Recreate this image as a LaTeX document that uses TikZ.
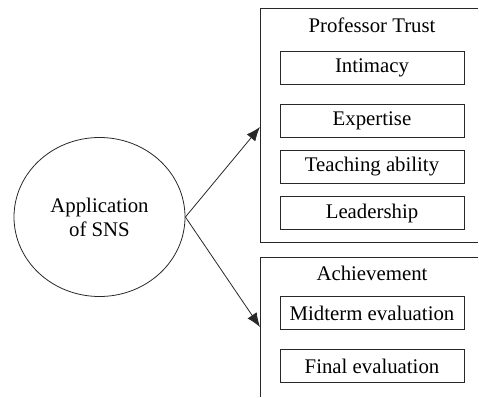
\documentclass[tikz,border=0pt]{standalone}
\usepackage{fontspec}
\setmainfont{Liberation Serif}
\usepackage{tikz}
\usetikzlibrary{positioning, shapes.geometric, arrows.meta}
\definecolor{lineColor}{RGB}{40,40,40}
\tikzstyle{diagram} = [x = 1pt, y = -1pt]
\tikzstyle{groupLine} = [color=lineColor, line width=1pt]
\tikzstyle{causeStyle} = [ellipse, draw=lineColor, line width=0.8pt, minimum width=171pt, minimum height=159pt, align=center, font=\fontsize{20.8}{24}\selectfont]
\tikzstyle{itemStyle} = [draw=lineColor, line width=0.9pt, minimum width=184pt, minimum height=33pt, inner sep=0pt, font=\fontsize{20.8}{24}\selectfont]
\tikzstyle{titleStyle} = [font=\fontsize{20.8}{24}\selectfont]
\tikzstyle{effectArrow} = [color=lineColor, line width=0.8pt, -{Latex[length=14pt, width=11pt]}]
\newcommand{\itemBox}[3]{\node [itemStyle] (#1) at (372, #2) {#3};}

\begin{document}
\begin{tikzpicture}[diagram]
  \useasboundingbox (0,0) rectangle (479,397);

  % open group frames
  \draw [groupLine] (478,8) -- (260,8) -- (260,242) -- (478,242);
  \draw [groupLine] (478,257) -- (260,257) -- (260,397);
  \coordinate (trustIn) at (260,127);
  \coordinate (achievementIn) at (260,327);

  \node [titleStyle] (trustTitle) at (372,25) {Professor Trust};
  \itemBox{intimacy}{68}{Intimacy}
  \itemBox{expertise}{121}{Expertise}
  \itemBox{teaching}{167}{Teaching ability}
  \itemBox{leadership}{213}{Leadership}

  \node [titleStyle] (achievementTitle) at (372,273) {Achievement};
  \itemBox{midterm}{313}{Midterm evaluation}
  \itemBox{final}{366}{Final evaluation}

  \node [causeStyle] (sns) at (99.5,217) {Application\\of SNS};
  \draw [effectArrow] (sns.east) -- (trustIn);
  \draw [effectArrow] (sns.east) -- (achievementIn);
\end{tikzpicture}
\end{document}
